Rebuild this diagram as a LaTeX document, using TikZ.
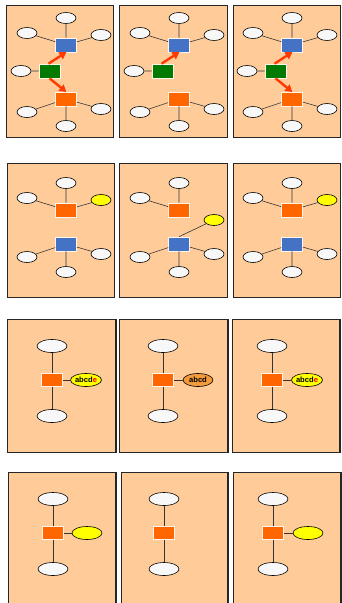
\documentclass[tikz,border=0pt]{standalone}
\usepackage{fontspec}
\newfontfamily\labelfont{Liberation Sans}
\usetikzlibrary{shapes.geometric,arrows.meta}
\definecolor{peach}{HTML}{FFCC99}
\definecolor{boxblue}{HTML}{4472C4}
\definecolor{boxorange}{HTML}{FF6600}
\definecolor{boxgreen}{HTML}{007A00}
\definecolor{ellwhite}{HTML}{F8F8F8}
\definecolor{ellyellow}{HTML}{FFFF00}
\definecolor{ellorange}{HTML}{F39A3C}
\definecolor{arrowred}{HTML}{FF3A00}
\definecolor{edgegray}{HTML}{333333}
\tikzset{
  panel/.style={draw=black!85,line width=0.8pt,fill=peach},
  ell/.style={ellipse,draw=black,line width=0.6pt,fill=ellwhite,inner sep=0pt,minimum width=20pt,minimum height=11pt},
  bigell/.style={ell,minimum width=30pt,minimum height=13pt},
  hub/.style={rectangle,draw=white!80!peach,line width=0.6pt,inner sep=0pt,minimum width=21pt,minimum height=14pt},
  smallhub/.style={hub,minimum height=13pt},
  link/.style={draw=edgegray,line width=0.6pt},
  move/.style={draw=arrowred,line width=2.4pt,-{Triangle[length=7pt,width=8pt]},shorten >=-0.5pt},
  tag/.style={font=\labelfont\bfseries\fontsize{7.6}{8}\selectfont}
}
\begin{document}
\begin{tikzpicture}[x=1pt,y=-1pt]
\useasboundingbox (0,0) rectangle (341,603);

% ---- row 1: green hub feeding the blue and orange stars ----
\foreach \i/\cx/\xa/\xb in {1/66/6/113,2/179/119/227,3/292/233/340}{
  \path[panel] (\xa,5) rectangle (\xb,137);
  \node[ell] (ra\i t)  at (\cx,18) {};
  \node[ell] (ra\i ul) at (\cx-39,33) {};
  \node[ell] (ra\i ur) at (\cx+35,35) {};
  \node[hub,fill=boxblue] (ra\i b) at (\cx,45) {};
  \node[hub,fill=boxgreen] (ra\i g) at (\cx-16.5,71) {};
  \node[ell] (ra\i l)  at (\cx-45,71) {};
  \node[hub,fill=boxorange] (ra\i o) at (\cx,99) {};
  \node[ell] (ra\i ll) at (\cx-39,112) {};
  \node[ell] (ra\i lr) at (\cx+35,109) {};
  \node[ell] (ra\i d)  at (\cx,126) {};
  \draw[link] (ra\i b) -- (ra\i t) (ra\i b) -- (ra\i ul) (ra\i b) -- (ra\i ur)
              (ra\i g) -- (ra\i l)
              (ra\i o) -- (ra\i ll) (ra\i o) -- (ra\i lr) (ra\i o) -- (ra\i d);
  \draw[move] ([xshift=-1pt]ra\i g.north) -- (ra\i b.south);
}
\draw[move] (ra1g.south) -- (ra1o.north);
\draw[move] (ra3g.south) -- (ra3o.north);

% ---- row 2: the yellow leaf changes owner ----
\foreach \i/\cx/\xa/\xb in {1/66/7/114,2/179/119/227,3/292/233/340}{
  \path[panel] (\xa,163) rectangle (\xb,297);
  \node[ell] (rb\i t)  at (\cx,183) {};
  \node[ell] (rb\i ul) at (\cx-39,198) {};
  \node[hub,fill=boxorange] (rb\i o) at (\cx,210) {};
  \node[hub,fill=boxblue] (rb\i b) at (\cx,244) {};
  \node[ell] (rb\i ll) at (\cx-39,257) {};
  \node[ell] (rb\i lr) at (\cx+35,254) {};
  \node[ell] (rb\i d)  at (\cx,272) {};
  \draw[link] (rb\i o) -- (rb\i t) (rb\i o) -- (rb\i ul)
              (rb\i b) -- (rb\i ll) (rb\i b) -- (rb\i lr) (rb\i b) -- (rb\i d);
}
\node[ell,fill=ellyellow] (rb1y) at (101,200) {};
\draw[link] (rb1o) -- (rb1y);
\node[ell,fill=ellyellow] (rb2y) at (214,220) {};
\draw[link] (rb2b.north) -- (rb2y);
\node[ell,fill=ellyellow] (rb3y) at (327,200) {};
\draw[link] (rb3o) -- (rb3y);

% ---- row 3: labelled leaf ----
\foreach \i/\cx/\xa/\xb in {1/52/7/116,2/163/119/228,3/272/232/340}{
  \path[panel] (\xa,319) rectangle (\xb,452);
  \draw[black!85,line width=1.6pt] (\xb,319) -- (\xb,452);
  \node[bigell] (rc\i t) at (\cx,346) {};
  \node[smallhub,fill=boxorange] (rc\i o) at (\cx,380) {};
  \node[bigell] (rc\i d) at (\cx,416) {};
  \draw[link] (rc\i o) -- (rc\i t) (rc\i o) -- (rc\i d);
}
\node[bigell,fill=ellyellow,tag] (rc1y) at (86,380) {abcd\textcolor{red}{e}};
\node[bigell,fill=ellorange,tag] (rc2y) at (198,380) {abcd};
\node[bigell,fill=ellyellow,tag] (rc3y) at (307,380) {abcd\textcolor{red}{e}};
\foreach \i in {1,2,3}{ \draw[link] (rc\i o) -- (rc\i y); }

% ---- row 4: leaf removed and restored ----
\foreach \i/\cx/\xa/\xb in {1/53/8/116,2/164/121/228,3/273/233/341}{
  \path[panel] (\xa,472) rectangle (\xb,606);
  \draw[black!85,line width=1.6pt] (\xb,472) -- (\xb,606);
  \node[bigell] (rd\i t) at (\cx,499) {};
  \node[smallhub,fill=boxorange] (rd\i o) at (\cx,533) {};
  \node[bigell] (rd\i d) at (\cx,569) {};
  \draw[link] (rd\i o) -- (rd\i t) (rd\i o) -- (rd\i d);
}
\node[bigell,fill=ellyellow] (rd1y) at (87,533) {};
\draw[link] (rd1o) -- (rd1y);
\node[bigell,fill=ellyellow] (rd3y) at (308,533) {};
\draw[link] (rd3o) -- (rd3y);
\end{tikzpicture}
\end{document}
